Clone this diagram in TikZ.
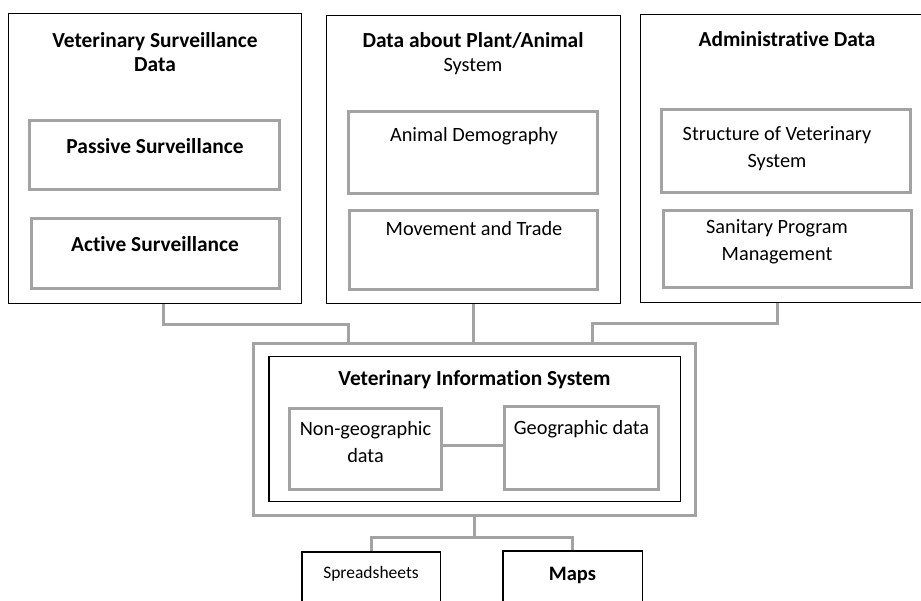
\documentclass[tikz,border=0pt]{standalone}
\usepackage{fontspec}
\setmainfont{Carlito}[RawFeature=-liga]
\definecolor{linegray}{RGB}{163,163,163}
\tikzset{
  outerbox/.style={draw=black, line width=1.5pt, fill=white, inner sep=0pt},
  graybox/.style={draw=linegray, line width=3pt, fill=white, inner sep=0pt},
  conn/.style={draw=linegray, line width=3pt},
  heading/.style={inner sep=0pt, align=center, font=\fontsize{21.4}{24}\selectfont\bfseries},
  bodytext/.style={inner sep=0pt, align=center, font=\fontsize{20.3}{27}\selectfont},
  smalltext/.style={inner sep=0pt, align=center, font=\fontsize{17.5}{21}\selectfont},
  outhead/.style={inner sep=0pt, align=center, font=\fontsize{20.5}{24}\selectfont\bfseries},
}
\begin{document}
\begin{tikzpicture}[x=1pt, y=-1pt]
\useasboundingbox (0,0) rectangle (921,601);

% three source groups
\node[outerbox, minimum width=293pt, minimum height=290pt] (surv) at (155,158.5) {};
\node[outerbox, minimum width=294pt, minimum height=288pt] (plant) at (473.5,159.5) {};
\node[outerbox, minimum width=294pt, minimum height=288pt] (admin) at (787.5,158.5) {};

\node[heading] (survT) at (155,52) {Veterinary Surveillance\\Data};
\node[heading] (plantT) at (473,53.5) {Data about Plant/Animal\\\mdseries\fontsize{20.3}{24}\selectfont System};
\node[heading] (adminT) at (787,39) {Administrative Data};

% sub-boxes of the source groups
\node[graybox, minimum width=250pt, minimum height=69pt] (passive) at (154.5,155) {};
\node[graybox, minimum width=248pt, minimum height=70pt] (active) at (155.5,253.5) {};
\node[heading] (passiveT) at (155,146) {Passive Surveillance};
\node[heading] (activeT) at (155,244) {Active Surveillance};

\node[graybox, minimum width=249pt, minimum height=82pt] (demo) at (473,152.5) {};
\node[graybox, minimum width=248pt, minimum height=79pt] (move) at (473.5,250) {};
\node[bodytext] (demoT) at (474,136) {Animal Demography};
\node[bodytext] (moveT) at (474,229) {Movement and Trade};

\node[graybox, minimum width=249pt, minimum height=83pt] (struct) at (786,151) {};
\node[graybox, minimum width=248pt, minimum height=77pt] (sanit) at (787.5,249) {};
\node[bodytext] (structT) at (777,149) {Structure of Veterinary\\System};
\node[bodytext] (sanitT) at (777,241.5) {Sanitary Program\\Management};

% information system
\node[graybox, minimum width=442pt, minimum height=172pt] (visout) at (474.5,429.5) {};
\node[outerbox, minimum width=411.5pt, minimum height=144.5pt] (visin) at (474.5,429) {};
\node[heading] (visT) at (474.5,380) {Veterinary Information System};
\node[graybox, minimum width=152pt, minimum height=81pt] (nongeo) at (365.5,449) {};
\node[graybox, minimum width=154pt, minimum height=83pt] (geo) at (581.5,448) {};
\node[bodytext] (nongeoT) at (365.5,442.5) {Non-geographic\\data};
\node[bodytext] (geoT) at (581.5,429) {Geographic data};

% outputs
\node[outerbox, minimum width=138.5pt, minimum height=80pt] (sheets) at (371,592) {};
\node[outerbox, minimum width=139.5pt, minimum height=80pt] (maps) at (572.5,591) {};
\node[smalltext] (sheetsT) at (371,574) {Spreadsheets};
\node[outhead] (mapsT) at (572.5,575) {Maps};

% connectors
\draw[conn] ([xshift=8pt]surv.south) -- ++(0,20) -| ([xshift=-126.5pt]visout.north);
\draw[conn] (plant.south) -- (plant.south |- visout.north);
\draw[conn] ([xshift=-10.5pt]admin.south) -- ++(0,20) -| ([xshift=117.5pt]visout.north);
\draw[conn] ([yshift=4pt]nongeo.east) -- ([yshift=4pt]nongeo.east -| geo.west);
\draw[conn] (visout.south) -- ++(0,20) coordinate (split);
\draw[conn] (sheets.north) |- (split) -| (maps.north);
\end{tikzpicture}
\end{document}
